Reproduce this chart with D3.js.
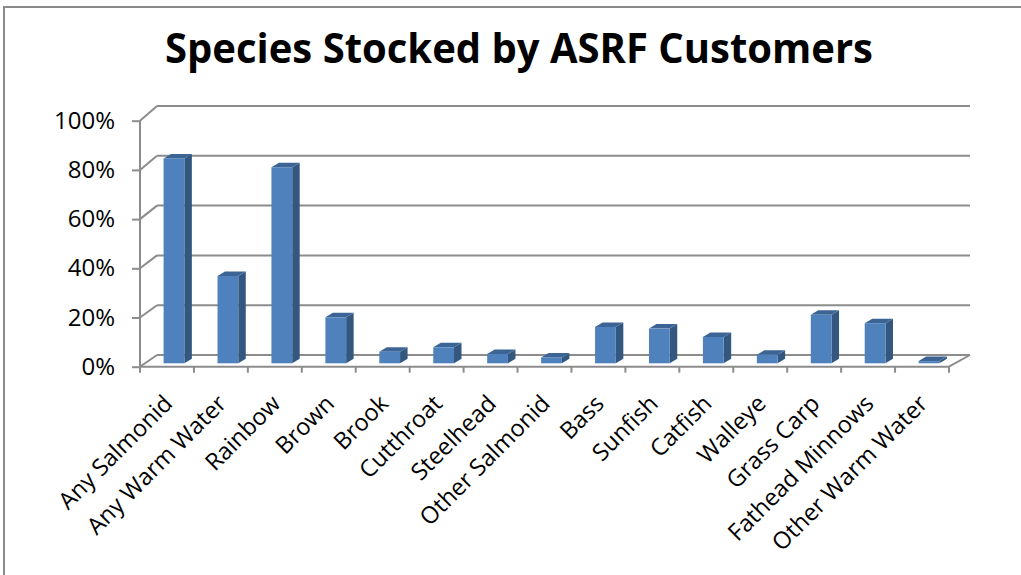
<!DOCTYPE html>
<html>
<head>
<meta charset="utf-8">
<script src="https://cdnjs.cloudflare.com/ajax/libs/d3/7.8.5/d3.min.js"></script>
<style>
html,body{margin:0;padding:0;background:#fff;}
svg{display:block;}
text{font-family:"Open Sans","Noto Sans",sans-serif;fill:#000;}
</style>
</head>
<body>
<svg id="chart" width="1021" height="575"></svg>
<script>
const title = "Species Stocked by ASRF Customers";
const categories = ["Any Salmonid","Any Warm Water","Rainbow","Brown","Brook","Cutthroat","Steelhead","Other Salmonid","Bass","Sunfish","Catfish","Walleye","Grass Carp","Fathead Minnows","Other Warm Water"];
const values = [83.3, 35.5, 79.7, 18.7, 4.7, 6.5, 3.8, 2.4, 14.8, 14.1, 10.7, 3.5, 19.7, 16.3, 0.9];
const yTicks = [0, 20, 40, 60, 80, 100];

const svg = d3.select("#chart");

// outer frame
svg.append("path").attr("d","M4,575 L4,7 L1021,7").attr("fill","none").attr("stroke","#8a8a8a").attr("stroke-width",2);

// title
svg.append("text").attr("x",519).attr("y",63).attr("text-anchor","middle")
  .attr("font-size",42).attr("font-weight","bold")
  .attr("textLength",708).attr("lengthAdjust","spacingAndGlyphs")
  .text(title);

// scales
const xFront = d3.scaleBand().domain(categories).range([140, 949]).padding(0);
const yFront = d3.scaleLinear().domain([0,100]).range([366.7,120.7]);
const yBack = d3.scaleLinear().domain([0,100]).range([355,106]);
const xBackL = 157, xBackR = 970, xFrontL = 140, xFrontR = 949;
const yBar = d3.scaleLinear().domain([0,100]).range([363.3,117.3]);

const grid = "#8c8c8c";
// back wall gridlines + side wall diagonals
yTicks.forEach(v => {
  svg.append("line").attr("x1",xBackL).attr("x2",xBackR).attr("y1",yBack(v)).attr("y2",yBack(v))
    .attr("stroke",grid).attr("stroke-width",2);
  svg.append("line").attr("x1",xFrontL).attr("y1",yFront(v)).attr("x2",xBackL).attr("y2",yBack(v))
    .attr("stroke",grid).attr("stroke-width",2);
});
// floor right edge
svg.append("line").attr("x1",xFrontR).attr("y1",yFront(0)).attr("x2",xBackR).attr("y2",yBack(0))
  .attr("stroke",grid).attr("stroke-width",2);

// bars
const bw = xFront.bandwidth()*0.385;
const dx = 7.5, dy = -4.5, shift = 7;
const bars = svg.append("g");
categories.forEach((c,i) => {
  const v = values[i];
  const x0 = xFront(c) + xFront.bandwidth()/2 - bw/2 + shift;
  const yt = yBar(v), yb = yBar(0);
  const g = bars.append("g");
  g.append("path").attr("d",`M${x0+bw},${yt} L${x0+bw+dx},${yt+dy} L${x0+bw+dx},${yb+dy} L${x0+bw},${yb} Z`)
    .attr("fill","#34577f");
  g.append("path").attr("d",`M${x0},${yt} L${x0+dx},${yt+dy} L${x0+bw+dx},${yt+dy} L${x0+bw},${yt} Z`)
    .attr("fill","#3c6596");
  g.append("rect").attr("x",x0).attr("y",yt).attr("width",bw).attr("height",Math.max(0,yb-yt))
    .attr("fill","#4f81bd");
});

// front axes
const yAxisG = svg.append("g").attr("transform",`translate(${xFrontL},0)`)
  .call(d3.axisLeft(yFront).tickValues(yTicks).tickSize(8).tickPadding(17).tickFormat(d => d + "%"));
yAxisG.select(".domain").attr("stroke",grid).attr("stroke-width",2).attr("d",`M0,${yFront(100)}V${yFront(0)}`);
yAxisG.selectAll(".tick line").attr("stroke",grid).attr("stroke-width",2);
yAxisG.selectAll(".tick text").attr("font-size",24).attr("font-family","'Open Sans',sans-serif").attr("fill","#000");

const xAxisG = svg.append("g").attr("transform",`translate(0,${yFront(0)})`)
  .call(d3.axisBottom(xFront).tickSize(0).tickFormat(""));
xAxisG.select(".domain").attr("stroke",grid).attr("stroke-width",2).attr("d",`M${xFrontL},0H${xFrontR}`);
xAxisG.selectAll(".tick").remove();
// band boundary ticks
d3.range(categories.length+1).forEach(i => {
  const x = i < categories.length ? xFront(categories[i]) : xFrontR;
  svg.append("line").attr("x1",x).attr("x2",x).attr("y1",yFront(0)).attr("y2",yFront(0)+6)
    .attr("stroke",grid).attr("stroke-width",2);
});

// category labels
categories.forEach(c => {
  const cx = xFront(c) + xFront.bandwidth()/2 + 7;
  svg.append("text").attr("transform",`translate(${cx},405) rotate(-45)`)
    .attr("text-anchor","end").attr("font-size",23.5).text(c);
});
</script>
</body>
</html>
